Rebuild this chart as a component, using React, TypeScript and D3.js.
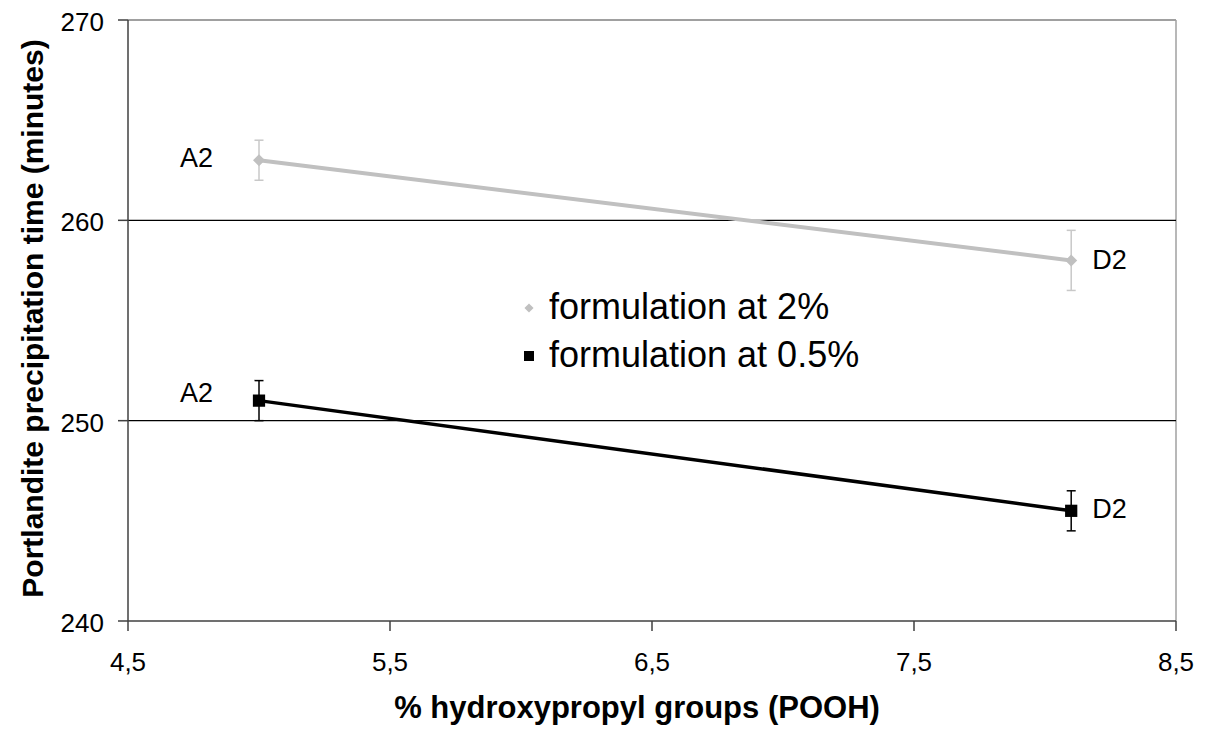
import React from "react";
import { scaleLinear, line, symbol, symbolSquare } from "d3";

// values
const xValues = [5.0, 8.1];
const pointLabels = ["A2", "D2"];
const seriesNames = ["formulation at 2%", "formulation at 0.5%"];
const values2pct = [263, 258];
const errors2pct = [1, 1.5];
const values05pct = [251, 245.5];
const errors05pct = [1, 1];
const xTicks = [4.5, 5.5, 6.5, 7.5, 8.5];
const yTicks = [240, 250, 260, 270];

const FONT = "Arial, 'Liberation Sans', Helvetica, sans-serif";

const App = () => {
  const width = 1208;
  const height = 735;
  const plot = { left: 128, right: 1176, top: 20, bottom: 621 };

  const x = scaleLinear().domain([4.5, 8.5]).range([plot.left, plot.right]);
  const y = scaleLinear().domain([240, 270]).range([plot.bottom, plot.top]);

  const series = [
    {
      name: seriesNames[0],
      values: values2pct,
      errors: errors2pct,
      color: "#c0c0c0",
      errColor: "#c8c8c8",
      lineWidth: 4,
      rotate: 45,
      size: 72,
      legendSize: 42,
      labelDy: [-2, 0],
    },
    {
      name: seriesNames[1],
      values: values05pct,
      errors: errors05pct,
      color: "#000000",
      errColor: "#000000",
      lineWidth: 3.5,
      rotate: 0,
      size: 150,
      legendSize: 100,
      labelDy: [-8, -2],
    },
  ];

  const path = line<number>()
    .x((_, i) => x(xValues[i]))
    .y((d) => y(d));

  const fmt = (v: number) => v.toFixed(1).replace(".", ",");

  return (
    <div style={{ position: "absolute", left: 0, top: 0 }}>
      <svg width={width} height={height} style={{ display: "block", background: "#fff" }}>
        {/* plot frame: top and right in gray */}
        <line x1={plot.left} x2={plot.right} y1={plot.top} y2={plot.top} stroke="#808080" strokeWidth={1.5} />
        <line x1={plot.right} x2={plot.right} y1={plot.top} y2={plot.bottom} stroke="#a0a0a0" strokeWidth={1.5} />

        {/* horizontal grid lines */}
        {yTicks
          .filter((t) => t !== 240 && t !== 270)
          .map((t) => (
            <line key={t} x1={plot.left} x2={plot.right} y1={y(t)} y2={y(t)} stroke="#000" strokeWidth={1.3} />
          ))}

        {/* axes */}
        <line x1={plot.left} x2={plot.left} y1={plot.top} y2={plot.bottom} stroke="#404040" strokeWidth={1.5} />
        <line x1={plot.left} x2={plot.right} y1={plot.bottom} y2={plot.bottom} stroke="#404040" strokeWidth={1.5} />

        {yTicks.map((t) => (
          <g key={t}>
            <line x1={plot.left - 10} x2={plot.left} y1={y(t)} y2={y(t)} stroke="#404040" strokeWidth={1.5} />
            <text
              x={104}
              y={y(t) + 2}
              textAnchor="end"
              dominantBaseline="central"
              fontFamily={FONT}
              fontSize={26}
              fill="#000"
            >
              {t}
            </text>
          </g>
        ))}

        {xTicks.map((t) => (
          <g key={t}>
            <line x1={x(t)} x2={x(t)} y1={plot.bottom} y2={plot.bottom + 10} stroke="#404040" strokeWidth={1.5} />
            <text x={x(t)} y={671} textAnchor="middle" fontFamily={FONT} fontSize={26} fill="#000">
              {fmt(t)}
            </text>
          </g>
        ))}

        {/* series */}
        {series.map((s) => (
          <g key={s.name}>
            <path d={path(s.values) || ""} fill="none" stroke={s.color} strokeWidth={s.lineWidth} />
            {s.values.map((v, i) => {
              const cx = x(xValues[i]);
              const top = y(v + s.errors[i]);
              const bot = y(v - s.errors[i]);
              return (
                <g key={i}>
                  <line x1={cx} x2={cx} y1={top} y2={bot} stroke={s.errColor} strokeWidth={1.5} />
                  <line x1={cx - 4.5} x2={cx + 4.5} y1={top} y2={top} stroke={s.errColor} strokeWidth={1.5} />
                  <line x1={cx - 4.5} x2={cx + 4.5} y1={bot} y2={bot} stroke={s.errColor} strokeWidth={1.5} />
                  <path
                    d={symbol().type(symbolSquare).size(s.size)() || ""}
                    transform={`translate(${cx},${y(v)}) rotate(${s.rotate})`}
                    fill={s.color}
                  />
                  <text
                    x={i === 0 ? cx - 46 : cx + 21}
                    y={y(v) + s.labelDy[i]}
                    textAnchor={i === 0 ? "end" : "start"}
                    dominantBaseline="central"
                    fontFamily={FONT}
                    fontSize={27}
                    fill="#000"
                  >
                    {pointLabels[i]}
                  </text>
                </g>
              );
            })}
          </g>
        ))}

        {/* legend */}
        {series.map((s, i) => (
          <g key={s.name} transform={`translate(529,${308 + i * 48})`}>
            <path
              d={symbol().type(symbolSquare).size(s.legendSize)() || ""}
              transform={`rotate(${s.rotate})`}
              fill={s.color}
            />
            <text x={20} y={11} fontFamily={FONT} fontSize={36} fill="#000">
              {s.name}
            </text>
          </g>
        ))}

        {/* axis titles */}
        <text x={637} y={718} textAnchor="middle" fontFamily={FONT} fontSize={31} fontWeight="bold" fill="#000">
          % hydroxypropyl groups (POOH)
        </text>
        <text
          transform={`translate(43,${(plot.top + plot.bottom) / 2 - 2}) rotate(-90)`}
          textAnchor="middle"
          fontFamily={FONT}
          fontSize={30}
          fontWeight="bold"
          fill="#000"
        >
          Portlandite precipitation time (minutes)
        </text>
      </svg>
    </div>
  );
};

export default App;
